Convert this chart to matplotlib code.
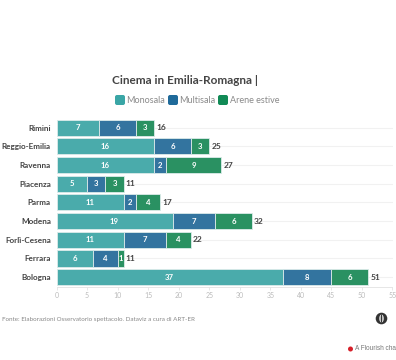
import numpy as np
import matplotlib
matplotlib.use('Agg')
import matplotlib.pyplot as plt
from matplotlib.patches import FancyBboxPatch, Circle, Ellipse

citta = ['Rimini', 'Reggio-Emilia', 'Ravenna', 'Piacenza', 'Parma', 'Modena',
         'Forlì-Cesena', 'Ferrara', 'Bologna']
monosala = [7, 16, 16, 5, 11, 19, 11, 6, 37]
multisala = [6, 6, 2, 3, 2, 7, 7, 4, 8]
arene = [3, 3, 9, 3, 4, 6, 4, 1, 6]
serie = ['Monosala', 'Multisala', 'Arene estive']
colori = ['#4aabab', '#33749f', '#2a9162']
colori_legenda = ['#3aa6a6', '#1f6a9a', '#118a56']
xtick = np.arange(0, 60, 5)

W, H = 396, 360
plt.rcParams['font.family'] = ['Lato', 'DejaVu Sans']

fig = plt.figure(figsize=(W / 100, H / 100), dpi=100)
top, bottom = 118.3, 286.5
ax = fig.add_axes([56.5 / W, 1 - bottom / H, (392.5 - 56.5) / W, (bottom - top) / H])

y = np.arange(len(citta))
left = np.zeros(len(citta))
for vals, nome, col in zip([monosala, multisala, arene], serie, colori):
    bars = ax.barh(y, vals, left=left, height=0.86, color=col, edgecolor='#dcebea',
                   linewidth=0.6, zorder=3, label=nome)
    for b, v in zip(bars, vals):
        ax.text(b.get_x() + b.get_width() / 2, b.get_y() + b.get_height() / 2, str(v),
                ha='center', va='center', color='white', fontsize=5.6, fontweight='bold', zorder=4)
    left = left + np.array(vals)

for i, tot in enumerate(left):
    ax.text(tot + 0.35, i, str(int(tot)), ha='left', va='center', color='#444444',
            fontsize=6, fontweight='bold', zorder=4)

ax.set_xlim(0, 55)
ax.set_ylim(len(citta) - 0.5, -0.5)
ax.set_yticks(y)
ax.set_yticklabels(citta, fontsize=5.9, fontweight='bold', color='#444444')
ax.set_xticks(xtick)
ax.set_xticklabels(xtick, fontsize=5, color='#bbbbbb')
ax.tick_params(axis='y', length=0, pad=4)
ax.tick_params(axis='x', length=2, width=0.5, color='#dddddd', pad=2)
ax.grid(axis='y', color='#f1f1f1', linewidth=0.8, zorder=0)
ax.set_axisbelow(True)
for s in ['top', 'right', 'left']:
    ax.spines[s].set_visible(False)
ax.spines['bottom'].set_color('#e2e2e2')
ax.spines['bottom'].set_linewidth(0.6)

# testi e legenda in pixel
bg = fig.add_axes([0, 0, 1, 1], zorder=-1)
bg.set_xlim(0, W)
bg.set_ylim(H, 0)
bg.axis('off')
bg.text(112.5, 80, 'Cinema in Emilia-Romagna |', fontsize=8.5, fontweight='bold',
        color='#444444', ha='left', va='center')

pos_box = [115, 168, 218]
pos_txt = [126.5, 179.5, 229.5]
for xb, xt, nome, col in zip(pos_box, pos_txt, serie, colori_legenda):
    bg.add_patch(FancyBboxPatch((xb + 1, 96), 8, 8, boxstyle='round,pad=1,rounding_size=2',
                                fc=col, ec='none'))
    bg.text(xt, 100.3, nome, fontsize=6.5, color='#8a8a8a', ha='left', va='center')

bg.text(1.5, 319.5, 'Fonte: Elaborazioni Osservatorio spettacolo. Dataviz a cura di ART-ER',
        fontsize=4.5, color='#888888', ha='left', va='center')

# logo e marchio Flourish
bg.add_patch(Circle((381.5, 318.5), 5.8, fc='#333333', ec='none'))
bg.add_patch(Ellipse((381.5, 318.5), 4.5, 8, fc='#e8e8e8', ec='none'))
bg.add_patch(Ellipse((381.5, 318.5), 1.5, 9, fc='#333333', ec='none'))
bg.add_patch(Circle((350.5, 349), 2.5, fc='#d6202a', ec='none'))
bg.text(355, 349, 'A Flourish cha', fontsize=4.7, color='#777777', ha='left', va='center',
        family=['Liberation Sans', 'DejaVu Sans'])

fig.savefig('out.png', dpi=100)
